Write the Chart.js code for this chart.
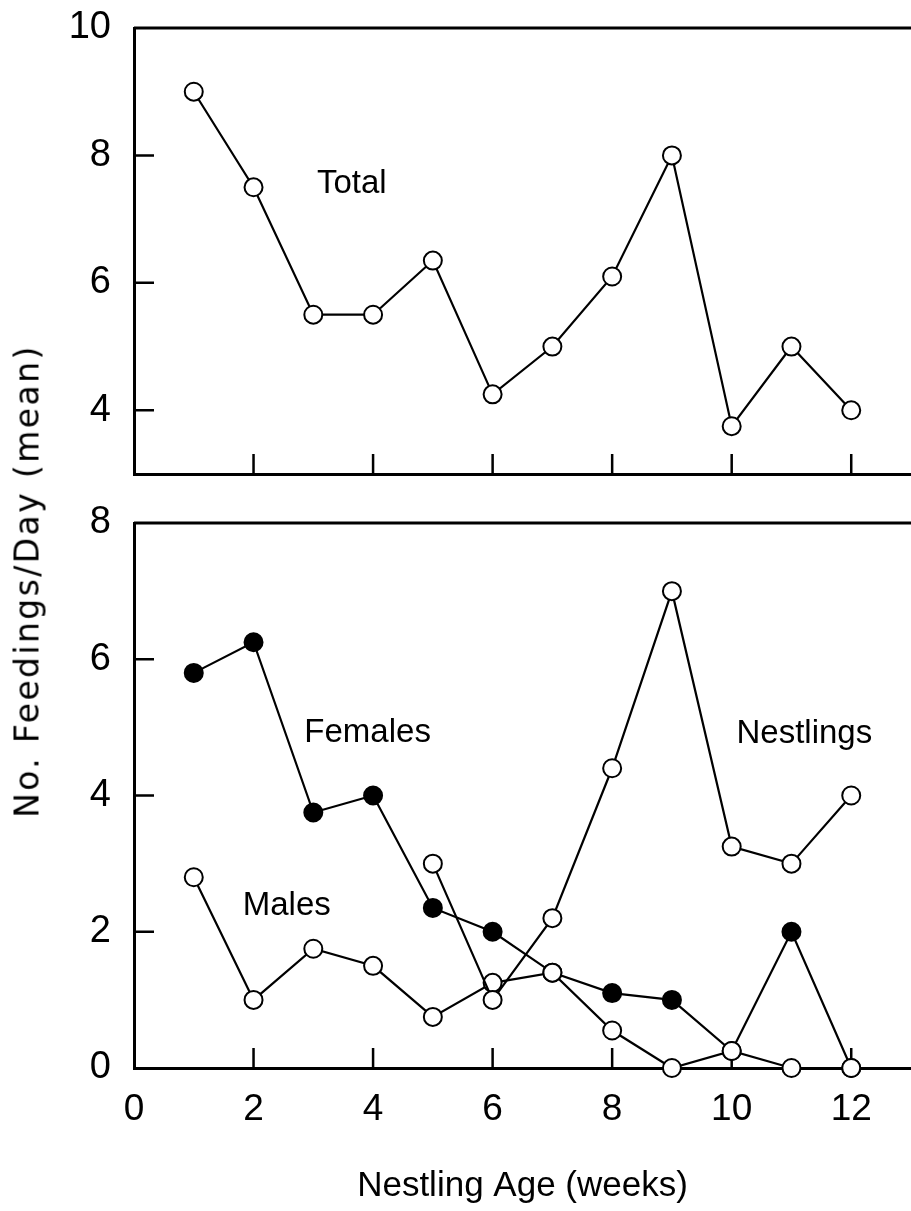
<!DOCTYPE html>
<html>
<head>
<meta charset="utf-8">
<script src="https://cdn.jsdelivr.net/npm/chart.js@4.4.0/dist/chart.umd.min.js"></script>
<style>
  body { margin:0; background:#fff; width:911px; height:1211px; overflow:hidden; position:relative; }
  .panel { position:absolute; left:0; }
  #topPanel { top:0; }
  #botPanel { top:490px; }
  #yTitle { position:absolute; left:27px; top:581px; transform:translate(-50%,-50%) rotate(-90deg);
            white-space:nowrap; font:33px "DejaVu Sans"; letter-spacing:2.4px; color:#000; }
</style>
</head>
<body>
<canvas id="topPanel" class="panel" width="911" height="490"></canvas>
<canvas id="botPanel" class="panel" width="911" height="721"></canvas>
<div id="yTitle">No. Feedings/Day (mean)</div>
<script>
// weekly feeding rates
const weeks = [1, 2, 3, 4, 5, 6, 7, 8, 9, 10, 11, 12];
const totalFeeds    = [9.0, 7.5, 5.5, 5.5, 6.35, 4.25, 5.0, 6.1, 8.0, 3.75, 5.0, 4.0];
const femaleFeeds   = [5.8, 6.25, 3.75, 4.0, 2.35, 2.0, 1.4, 1.1, 1.0, 0.25, 2.0, 0];
const maleFeeds     = [2.8, 1.0, 1.75, 1.5, 0.75, 1.25, 1.4, 0.55, 0, 0.25, 0, 0];
const nestlingFeeds = [null, null, null, null, 3.0, 1.0, 2.2, 4.4, 7.0, 3.25, 3.0, 4.0];

const xTickValues = [0, 2, 4, 6, 8, 10, 12];
const innerXTicks = [2, 4, 6, 8, 10, 12];
const topYTicks = [4, 6, 8, 10];
const topInnerY = [4, 6, 8];
const botYTicks = [0, 2, 4, 6, 8];
const botInnerY = [2, 4, 6];

const FONT = '"Liberation Sans", Arial, sans-serif';
const NUM_FONT = '"Liberation Sans Narrow", "Liberation Sans", Arial, sans-serif';

const pts = vals => weeks.map((w, i) => ({ x: w, y: vals[i] })).filter(p => p.y !== null);

function series(vals, filled, order) {
  return {
    data: pts(vals), order: order, clip: false,
    borderColor: '#000', borderWidth: 2.2, tension: 0,
    pointRadius: 9, pointBorderWidth: 2, pointBorderColor: '#000',
    pointBackgroundColor: filled ? '#000' : '#fff'
  };
}

// frame top line, inward tick marks, series labels
const panelFrame = {
  id: 'panelFrame',
  beforeDatasetsDraw(chart, args, opts) {
    const { ctx, chartArea: a, scales: { x, y } } = chart;
    ctx.save();
    ctx.strokeStyle = '#000';
    ctx.lineWidth = 3;
    ctx.beginPath(); ctx.moveTo(a.left, a.top); ctx.lineTo(a.right, a.top); ctx.stroke();
    ctx.lineWidth = 2.5;
    ctx.beginPath();
    opts.yTicks.forEach(v => { const py = y.getPixelForValue(v); ctx.moveTo(a.left, py); ctx.lineTo(a.left + 20, py); });
    opts.xTicks.forEach(v => { const px = x.getPixelForValue(v); ctx.moveTo(px, a.bottom); ctx.lineTo(px, a.bottom - 20); });
    ctx.stroke();
    ctx.fillStyle = '#000';
    ctx.font = '33px ' + FONT;
    ctx.textBaseline = 'middle';
    ctx.textAlign = 'left';
    opts.labels.forEach(l => ctx.fillText(l.text, x.getPixelForValue(l.x), y.getPixelForValue(l.y)));
    ctx.restore();
  }
};

function makeOptions(cfg) {
  return {
    responsive: false, animation: false, events: [],
    layout: { autoPadding: false, padding: { top: cfg.padTop, right: 0, left: 0, bottom: 0 } },
    plugins: {
      legend: { display: false }, tooltip: { enabled: false },
      panelFrame: { xTicks: innerXTicks, yTicks: cfg.innerY, labels: cfg.labels }
    },
    scales: {
      x: {
        type: 'linear', min: 0, max: 13,
        grid: { display: false, drawTicks: false },
        border: { display: true, color: '#000', width: 3 },
        afterBuildTicks: s => { s.ticks = xTickValues.map(v => ({ value: v })); },
        afterFit: s => { s.height = cfg.xHeight; s.paddingLeft = 0; s.paddingRight = 0; },
        ticks: { display: cfg.showX, color: '#000', padding: 20, font: { family: NUM_FONT, size: 37 } },
        title: {
          display: cfg.showX, text: 'Nestling Age (weeks)', color: '#000',
          padding: { top: 0, bottom: 4 }, font: { family: FONT, size: 35 }
        }
      },
      y: {
        min: cfg.yMin, max: cfg.yMax,
        grid: { display: false, drawTicks: false },
        border: { display: true, color: '#000', width: 3 },
        afterBuildTicks: s => { s.ticks = cfg.yTicks.map(v => ({ value: v })); },
        // fixed axis width; labels may overhang the plot edges
        afterFit: s => { s.width = 134; s.paddingTop = 0; s.paddingBottom = 0; },
        ticks: { color: '#000', padding: 23, font: { family: NUM_FONT, size: 38 } }
      }
    }
  };
}

new Chart(document.getElementById('topPanel'), {
  type: 'line',
  data: { datasets: [series(totalFeeds, false, 1)] },
  options: makeOptions({
    padTop: 28, xHeight: 16, showX: false, yMin: 3, yMax: 10,
    yTicks: topYTicks, innerY: topInnerY,
    labels: [{ text: 'Total', x: 3.06, y: 7.56 }]
  }),
  plugins: [panelFrame]
});

new Chart(document.getElementById('botPanel'), {
  type: 'line',
  data: {
    datasets: [
      series(femaleFeeds, true, 3),
      series(maleFeeds, false, 2),
      series(nestlingFeeds, false, 1)
    ]
  },
  options: makeOptions({
    padTop: 33, xHeight: 143, showX: true, yMin: 0, yMax: 8,
    yTicks: botYTicks, innerY: botInnerY,
    labels: [
      { text: 'Females', x: 2.85, y: 4.92 },
      { text: 'Nestlings', x: 10.08, y: 4.9 },
      { text: 'Males', x: 1.82, y: 2.38 }
    ]
  }),
  plugins: [panelFrame]
});
</script>
</body>
</html>
